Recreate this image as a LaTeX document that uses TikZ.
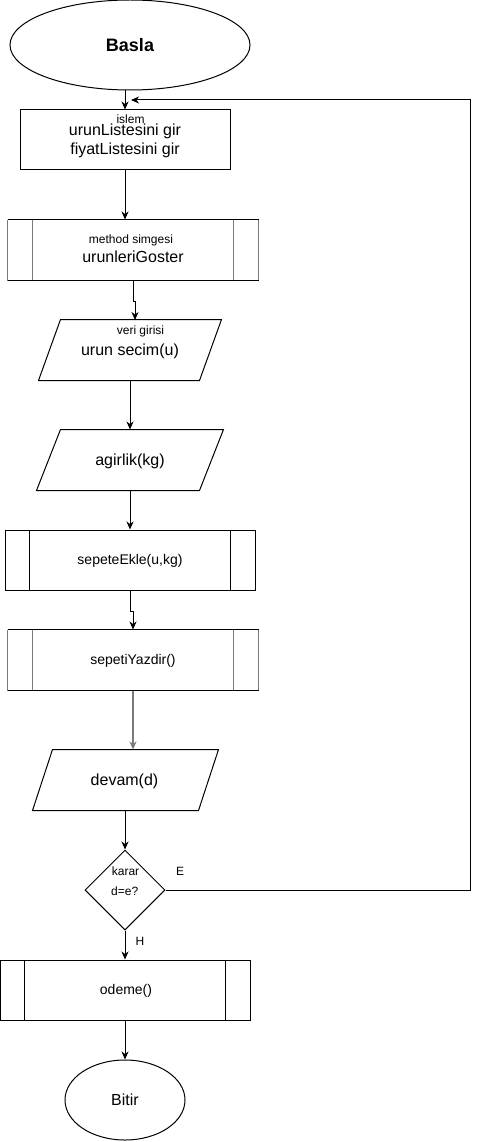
\documentclass[tikz,border=0pt]{standalone}
\usepackage{fontspec}
\setmainfont{Liberation Sans}
\usetikzlibrary{shapes.geometric,arrows.meta,calc}
\definecolor{grayline}{HTML}{7A7A7A}
\begin{document}
\begin{tikzpicture}[x=1pt,y=-1pt,
  line width=1pt,
  arr/.style={-{Stealth[length=8pt,width=7pt,inset=2.5pt]}, line width=1pt},
  box/.style={draw, rectangle, inner sep=0pt, line width=1pt},
  slot/.style={rectangle, inner sep=0pt, minimum width=160pt, minimum height=60pt},
  oval/.style={draw, ellipse, inner sep=0pt, line width=1pt},
  soft/.style={draw=grayline, line width=1.6pt},
  big/.style={font=\fontsize{16}{19}\selectfont},
  mid/.style={font=\fontsize{14}{17}\selectfont},
  small/.style={font=\fontsize{12}{14}\selectfont},
  txt/.style={inner sep=0pt, align=center},
]
\useasboundingbox (0,0) rectangle (480,1142);

% Start
\node[oval, minimum width=240pt, minimum height=90pt, font=\fontsize{18}{21}\selectfont\bfseries] (start) at (130,45) {Basla};

% islem box
\node[box, minimum width=210pt, minimum height=60pt] (r1) at (125,140) {};
\node[txt, small] (r1lab) at (130.5,119.5) {islem};
\node[txt, big] (r1a) at (125,131.5) {urunListesini gir};
\node[txt, big] (r1b) at (125,150) {fiyatListesini gir};

% method 1
\node[box, draw=none, minimum width=250pt, minimum height=60pt] (m1) at (133,250) {};
\draw[soft] (m1.north west) -- (m1.south west);
\draw[soft] (m1.north east) -- (m1.south east);
\draw[soft] ($(m1.north west)+(25,0)$) -- ($(m1.south west)+(25,0)$);
\draw[soft] ($(m1.north east)+(-25,0)$) -- ($(m1.south east)+(-25,0)$);
\draw (m1.north west) -- (m1.north east);
\draw (m1.south west) -- (m1.south east);
\node[txt, small] (m1lab) at (131,240) {method simgesi};
\node[txt, big] (m1a) at (133,257) {urunleriGoster};

% parallelogram 1
\node[slot] (p1) at (130,350) {};
\draw ($(p1.north west)+(11,0)$) -- ($(p1.north east)+(11,0)$) -- ($(p1.south east)+(-11,0)$) -- ($(p1.south west)+(-11,0)$) -- cycle;
\node[txt, small] (p1lab) at (140.5,331) {veri girisi};
\node[txt, big] (p1a) at (130,351) {urun secim(u)};
\coordinate (p1in) at (135,320);

% parallelogram 2
\node[slot, minimum width=162pt] (p2) at (130,460) {};
\draw ($(p2.north west)+(12,0)$) -- ($(p2.north east)+(12,0)$) -- ($(p2.south east)+(-12,0)$) -- ($(p2.south west)+(-12,0)$) -- cycle;
\node[txt, big] (p2a) at (130,461) {agirlik(kg)};

% method 2
\node[box, minimum width=250pt, minimum height=60pt] (m2) at (130,560) {};
\draw ($(m2.north west)+(25,0)$) -- ($(m2.south west)+(25,0)$);
\draw ($(m2.north east)+(-25,0)$) -- ($(m2.south east)+(-25,0)$);
\node[txt, mid] (m2a) at (130,561) {sepeteEkle(u,kg)};

% method 3
\node[box, draw=none, minimum width=250pt, minimum height=60pt] (m3) at (133,660) {};
\draw[soft] (m3.north west) -- (m3.south west);
\draw[soft] (m3.north east) -- (m3.south east);
\draw[soft] ($(m3.north west)+(25,0)$) -- ($(m3.south west)+(25,0)$);
\draw[soft] ($(m3.north east)+(-25,0)$) -- ($(m3.south east)+(-25,0)$);
\draw (m3.north west) -- (m3.north east);
\draw (m3.south west) -- (m3.south east);
\node[txt, mid] (m3a) at (133,661) {sepetiYazdir()};

% parallelogram 3
\node[slot, minimum width=165pt] (p3) at (125.5,780) {};
\draw ($(p3.north west)+(10,0)$) -- ($(p3.north east)+(10,0)$) -- ($(p3.south east)+(-10,0)$) -- ($(p3.south west)+(-10,0)$) -- cycle;
\node[txt, big] (p3a) at (124.5,781) {devam(d)};

% decision
\node[draw, diamond, inner sep=0pt, minimum width=80pt, minimum height=80pt] (d) at (125,890) {};
\node[txt, small] (dlab) at (125.5,871) {karar};
\node[txt, small] (da) at (124.7,891) {d=e?};
\node[txt, small] (elab) at (180,871) {E};
\node[txt, small] (hlab) at (140,941) {H};

% method 4
\node[box, minimum width=250pt, minimum height=60pt] (m4) at (125,990) {};
\draw ($(m4.north west)+(25,0)$) -- ($(m4.south west)+(25,0)$);
\draw ($(m4.north east)+(-25,0)$) -- ($(m4.south east)+(-25,0)$);
\node[txt, mid] (m4a) at (126,991) {odeme()};

% end
\node[oval, minimum width=120pt, minimum height=80pt, big] (end) at (125,1100) {Bitir};

% loop coordinates
\coordinate (lp) at (470,100);
\coordinate (loopend) at (131,100);

% connectors
\draw[arr] (r1.north |- start.south) -- (r1.north);
\draw[arr] (r1.south) -- (r1.south |- m1.north);
\draw[arr] (m1.south) -- ++(0,21) -| (p1in);
\draw[arr] (p1.south) -- (p2.north);
\draw[arr] (p2.south) -- (m2.north);
\draw[arr] (m2.south) -- ++(0,21) -| (m3.north);
\draw[arr, grayline, line width=1.4pt] (m3.south) -- (m3.south |- p3.north);
\draw[arr] (d.north |- p3.south) -- (d.north);
\draw[arr] (d.south) -- (m4.north);
\draw[arr] (m4.south) -- (end.north);
\draw[arr] (d.east) -| (lp) -- (loopend);
\end{tikzpicture}
\end{document}
